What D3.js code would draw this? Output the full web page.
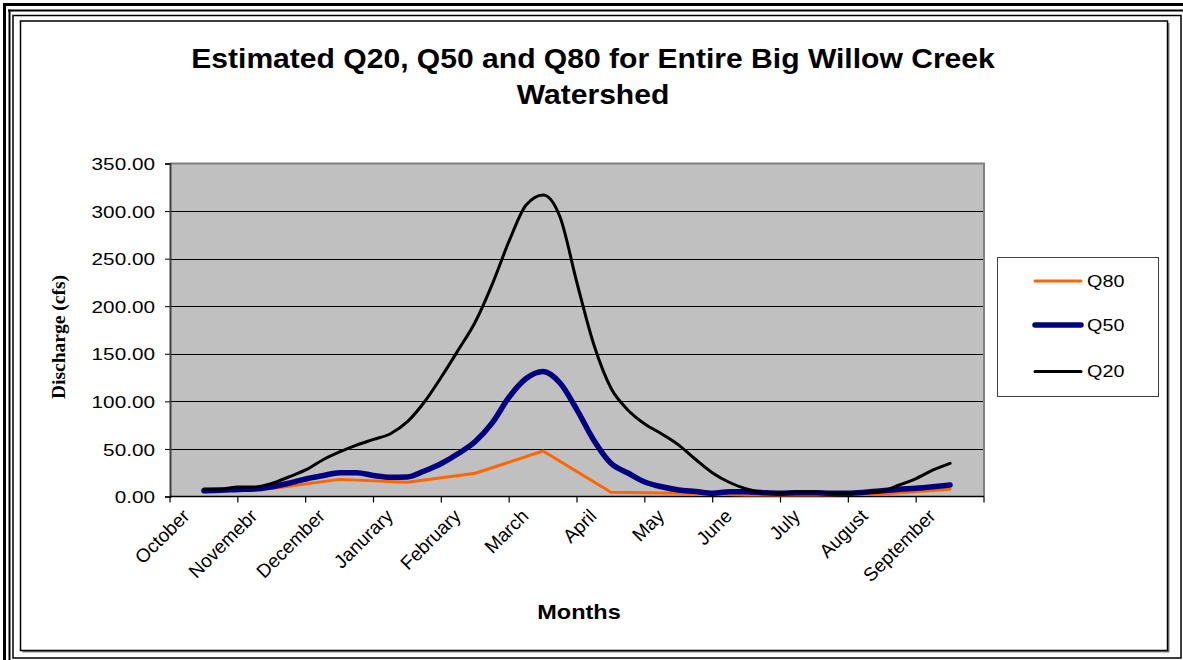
<!DOCTYPE html>
<html>
<head>
<meta charset="utf-8">
<script src="https://cdn.jsdelivr.net/npm/d3@7"></script>
<style>
  html, body { margin: 0; padding: 0; background: #fff; }
  svg { display: block; }
</style>
</head>
<body>
<svg id="chart" width="1183" height="660"></svg>
<script>
// Month categories (labels as printed on the axis)
const months = ["October", "Novemebr", "December", "Janurary", "February", "March",
                "April", "May", "June", "July", "August", "September"];

// Y-axis tick values (cfs)
const yTickValues = [0, 50, 100, 150, 200, 250, 300, 350];

// Q20 and Q50: quarter-month values, from mid-October to mid-September
const q20 = [8, 8, 10, 10, 13.7, 20.5, 27.9, 38.4, 46.8, 54, 60, 66,
             78.6, 99.3, 125.6, 154, 183.4, 223, 268.6, 306.4, 317, 293.8,
             224.4, 159.2, 114, 91, 76.2, 65.7, 54, 38.9, 24.7, 14.7,
             7.9, 4.2, 3.4, 5, 5, 3.4, 3.4, 4.4, 5.8, 12.1, 18.9, 27.9, 34.9];

const q50 = [6.1, 6.5, 7.4, 7.9, 10.3, 13.9, 18.4, 21.8, 25, 25, 22.1, 20.2,
             20.5, 26.8, 34.7, 45.2, 57.8, 77.3, 104.6, 124, 131.4, 119.3,
             91, 58.9, 34.9, 24.7, 15.2, 10.2, 6.8, 5.2, 3.4, 5,
             5, 4, 3.4, 4, 4, 3.4, 3.4, 4.4, 6, 7.6, 8.6, 10.2, 12.1];

// Q80: one value per month
const q80 = [5, 8.5, 18, 15, 24.4, 47.8, 4.4, 3.4, 1.6, 1.5, 2.6, 7.6];

const seriesNames = ["Q80", "Q50", "Q20"];
const seriesColors = ["#FF6600", "#000080", "#000000"];
const seriesWidths = [3, 5.5, 3];

const svg = d3.select("#chart");

// ---- page borders (table rules round the figure) ----
const frame = svg.append("g");
frame.append("line").attr("x1", 3).attr("x2", 1183).attr("y1", 4.5).attr("y2", 4.5)
  .attr("stroke", "#000").attr("stroke-width", 3);
frame.append("line").attr("x1", 4.5).attr("x2", 4.5).attr("y1", 3).attr("y2", 660)
  .attr("stroke", "#000").attr("stroke-width", 3);
frame.append("line").attr("x1", 8).attr("x2", 1183).attr("y1", 10.5).attr("y2", 10.5)
  .attr("stroke", "#000").attr("stroke-width", 2);
frame.append("line").attr("x1", 9.5).attr("x2", 9.5).attr("y1", 9.5).attr("y2", 660)
  .attr("stroke", "#000").attr("stroke-width", 2);
frame.append("rect").attr("x", 13).attr("y", 15.5).attr("width", 1168).attr("height", 642.5)
  .attr("fill", "none").attr("stroke", "#000").attr("stroke-width", 1.5);

// chart area with its drop shadow
frame.append("rect").attr("x", 22.5).attr("y", 23).attr("width", 1147).attr("height", 629.5)
  .attr("fill", "#808080");
frame.append("rect").attr("x", 20.5).attr("y", 21).attr("width", 1147).attr("height", 629.5)
  .attr("fill", "#fff").attr("stroke", "#000").attr("stroke-width", 1.5);

// ---- scales ----
const plot = { left: 170, right: 984, top: 163.5, bottom: 496.5 };

const xBand = d3.scaleBand().domain(months).range([plot.left, plot.right]);
const xEdge = d3.scaleLinear().domain([0, months.length]).range([plot.left, plot.right]);
// fractional month position (0 = October) to pixel, on category centres
const xPos = t => xEdge(t + 0.5);
const y = d3.scaleLinear().domain([0, 350]).range([plot.bottom, plot.top]);

// ---- plot area ----
svg.append("rect")
  .attr("x", plot.left).attr("y", plot.top)
  .attr("width", plot.right - plot.left).attr("height", plot.bottom - plot.top)
  .attr("fill", "#C0C0C0");

// gridlines
svg.append("g").selectAll("line")
  .data(yTickValues.filter(v => v > 0 && v < 350))
  .join("line")
  .attr("x1", plot.left).attr("x2", plot.right)
  .attr("y1", d => Math.round(y(d)) + 0.5).attr("y2", d => Math.round(y(d)) + 0.5)
  .attr("stroke", "#000").attr("stroke-width", 1);

// plot area outline (top and right)
svg.append("path")
  .attr("d", `M${plot.left},${plot.top}H${plot.right}V${plot.bottom}`)
  .attr("fill", "none").attr("stroke", "#808080").attr("stroke-width", 2);

// ---- y axis ----
const yAxis = d3.axisLeft(y).tickValues(yTickValues).tickSize(5).tickFormat(d3.format(".2f"));
const gy = svg.append("g").attr("transform", `translate(${plot.left},0)`).call(yAxis);
gy.select(".domain").attr("stroke", "#404040").attr("stroke-width", 2);
gy.selectAll(".tick line").attr("stroke", "#000");
gy.selectAll(".tick text").remove();
gy.selectAll(".tick").append("text")
  .attr("transform", "translate(-15,0) scale(1.22,1)")
  .attr("text-anchor", "end")
  .attr("dy", "0.36em")
  .attr("fill", "#000")
  .style("font-family", "'Liberation Sans', Arial, sans-serif")
  .style("font-size", "17px")
  .text(d => d3.format(".2f")(d));

// ---- x axis ----
const gx = svg.append("g").attr("transform", `translate(0,${plot.bottom})`);
gx.append("line").attr("x1", plot.left).attr("x2", plot.right).attr("y1", 0).attr("y2", 0)
  .attr("stroke", "#000").attr("stroke-width", 1.5);
gx.selectAll(".edge").data(d3.range(months.length + 1)).join("line")
  .attr("class", "edge")
  .attr("x1", d => xEdge(d)).attr("x2", d => xEdge(d))
  .attr("y1", 0).attr("y2", 6)
  .attr("stroke", "#000").attr("stroke-width", 1.2);
gx.selectAll(".lbl").data(months).join("text")
  .attr("class", "lbl")
  .attr("transform", d => `translate(${xBand(d) + xBand.bandwidth() / 2 - 18},16) rotate(-45)`)
  .attr("text-anchor", "end")
  .attr("dy", "0.35em")
  .style("font-family", "'Liberation Sans', Arial, sans-serif")
  .style("font-size", "19px")
  .text(d => d);

// ---- series ----
const qIndex = d3.range(q20.length).map(i => i / 4);
const seriesData = [
  q80.map((v, i) => [i, v]),
  q50.map((v, i) => [qIndex[i], v]),
  q20.map((v, i) => [qIndex[i], v])
];
const smooth = d3.line().x(d => xPos(d[0])).y(d => y(d[1])).curve(d3.curveMonotoneX);
const straight = d3.line().x(d => xPos(d[0])).y(d => y(d[1]));

svg.append("g").selectAll("path")
  .data(seriesData)
  .join("path")
  .attr("d", (d, i) => i === 0 ? straight(d) : smooth(d))
  .attr("fill", "none")
  .attr("stroke", (d, i) => seriesColors[i])
  .attr("stroke-width", (d, i) => seriesWidths[i])
  .attr("stroke-linejoin", "round")
  .attr("stroke-linecap", "round");

// ---- legend ----
const legend = svg.append("g");
legend.append("rect").attr("x", 997.5).attr("y", 257.5).attr("width", 161).attr("height", 139)
  .attr("fill", "#fff").attr("stroke", "#404040").attr("stroke-width", 1);
const legendRows = [281, 325, 371.5];
seriesNames.forEach((name, i) => {
  legend.append("line")
    .attr("x1", 1035).attr("x2", 1081).attr("y1", legendRows[i]).attr("y2", legendRows[i])
    .attr("stroke", seriesColors[i]).attr("stroke-width", seriesWidths[i])
    .attr("stroke-linecap", "round");
  legend.append("text")
    .attr("transform", `translate(1087,${legendRows[i]}) scale(1.2,1)`)
    .attr("dy", "0.36em")
    .style("font-family", "'Liberation Sans', Arial, sans-serif")
    .style("font-size", "16.5px")
    .text(name);
});

// ---- titles ----
const titleLines = ["Estimated Q20, Q50 and Q80 for Entire Big Willow Creek", "Watershed"];
const title = svg.append("g").attr("transform", "translate(593,0)");
const tl = title.selectAll("text").data(titleLines).join("text")
  .attr("text-anchor", "middle")
  .attr("y", (d, i) => 68 + i * 36)
  .style("font-family", "'Liberation Sans', Arial, sans-serif")
  .style("font-weight", "bold")
  .style("font-size", "28px")
  .text(d => d);
const natural = tl.node().getComputedTextLength();
const titleScale = 804 / natural;
title.attr("transform", `translate(593,0) scale(${titleScale},1)`);

svg.append("text")
  .attr("transform", "translate(579,619) scale(1.12,1)")
  .attr("text-anchor", "middle")
  .style("font-family", "'Liberation Sans', Arial, sans-serif")
  .style("font-weight", "bold")
  .style("font-size", "21px")
  .text("Months");

svg.append("text")
  .attr("transform", "translate(58,337) rotate(-90)")
  .attr("text-anchor", "middle")
  .attr("dy", "0.35em")
  .style("font-family", "'Liberation Serif', 'Times New Roman', serif")
  .style("font-weight", "bold")
  .style("font-size", "19.5px")
  .text("Discharge (cfs)");
</script>
</body>
</html>
